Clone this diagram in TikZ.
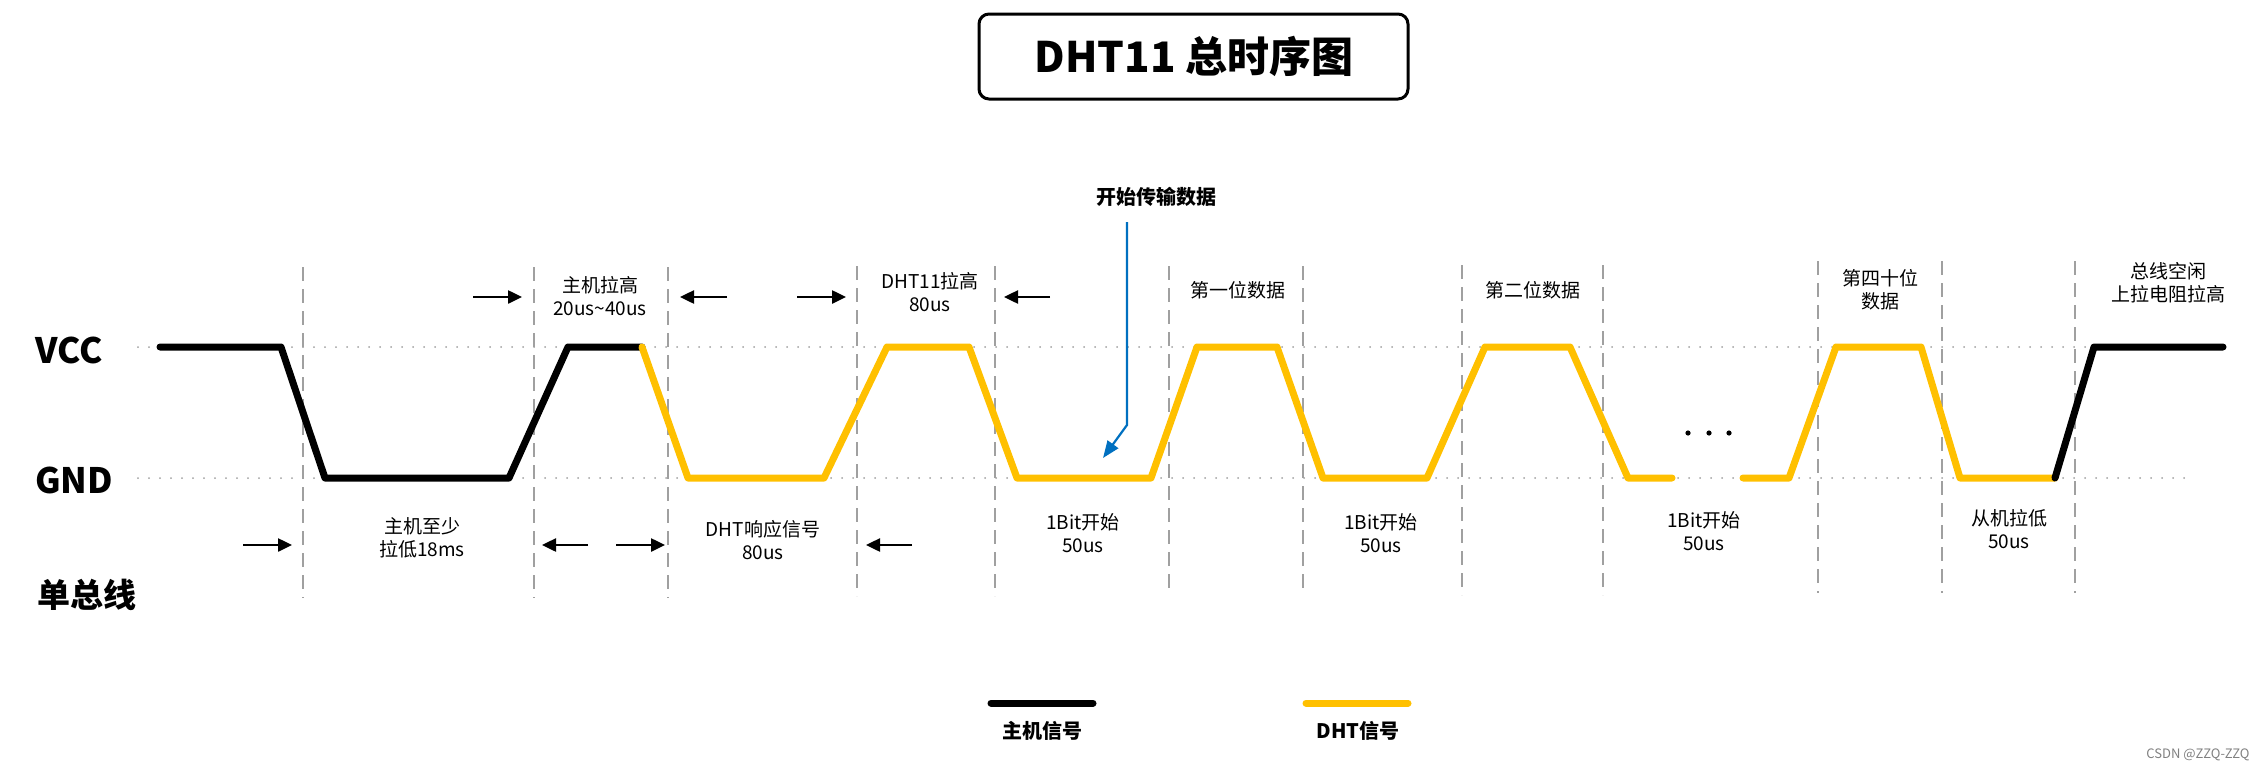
\documentclass[tikz,border=0pt]{standalone}
\usepackage{fontspec}
\setmainfont{Noto Sans CJK SC}
\usetikzlibrary{arrows.meta}
\definecolor{dhty}{HTML}{FFC000}
\definecolor{bluea}{HTML}{0070C0}
\definecolor{gridg}{HTML}{A0A0A0}
\begin{document}
\begin{tikzpicture}[x=1pt,y=-1pt,
  host/.style={line width=7pt, black, line cap=round, line join=round},
  dht/.style={line width=7pt, dhty, line cap=round, line join=round},
  level/.style={gridg, line width=2pt, line cap=round, dash pattern=on 0pt off 11pt},
  divider/.style={gridg, line width=2pt, dash pattern=on 14pt off 8pt},
  lbl/.style={font=\fontsize{19}{23}\selectfont, align=center, inner sep=0pt},
  bigl/.style={font=\fontsize{35}{40}\selectfont\bfseries, inner sep=0pt},
  marker/.style={line width=2.5pt, -{Triangle[length=14pt,width=13pt]}},
]
\useasboundingbox (0,0) rectangle (2260,771);

% title
\draw[line width=3pt, rounded corners=10pt] (979,14) rectangle (1408,99);
\node[font=\fontsize{42}{46}\selectfont\bfseries, inner sep=0pt] (title) at (1194,56) {DHT11 总时序图};

% axis labels
\node[bigl] (vcc) at (69,350) {VCC};
\node[bigl] (gnd) at (74,480) {GND};
\node[bigl, font=\fontsize{33}{38}\selectfont\bfseries] (bus) at (87,595) {单总线};

% level lines
\draw[level] (138,347) -- (2200,347);
\draw[level] (138,478) -- (2195,478);

% dividers
\foreach \x/\t/\b in {303/267/598, 534/267/598, 668/267/598, 857/266/596, 995/266/596, 1169/266/595, 1303/266/595, 1462/265/595, 1603/265/595, 1818/261/593, 1942/261/593, 2075/261/593}
  \draw[divider] (\x,\t) -- (\x,\b);

% signals
\draw[host] (160,347) -- (281,347) -- (325,478) -- (509,478) -- (568,347) -- (642,347);
\draw[dht] (642,347) -- (688,478) -- (824,478) -- (887,347) -- (969,347) -- (1017,478) -- (1151,478) -- (1197,347) -- (1277,347) -- (1323,478) -- (1427,478) -- (1485,347) -- (1570,347) -- (1628,478) -- (1672,478);
\draw[dht] (1743,478) -- (1789,478) -- (1836,347) -- (1921,347) -- (1960,478) -- (2055,478);
\draw[host] (2055,478) -- (2094,347) -- (2223,347);

% ellipsis
\foreach \x in {1688,1709,1729} \fill (\x,433) circle (2.6pt);

% timing arrows (top)
\draw[marker] (473,297) -- (522,297);
\draw[marker] (727,297) -- (680,297);
\draw[marker] (797,297) -- (846,297);
\draw[marker] (1050,297) -- (1004,297);
% timing arrows (bottom)
\draw[marker] (243,545) -- (292,545);
\draw[marker] (588,545) -- (542,545);
\draw[marker] (616,545) -- (665,545);
\draw[marker] (912,545) -- (866,545);

% labels
\node[lbl] (l1) at (600,296) {主机拉高\\20us\textasciitilde40us};
\node[lbl] (l2) at (930,292) {DHT11拉高\\80us};
\node[lbl] (l3) at (1238,290) {第一位数据};
\node[lbl] (l4) at (1533,290) {第二位数据};
\node[lbl] (l5) at (1880,290) {第四十位\\数据};
\node[lbl] (l6) at (2168,283) {总线空闲\\上拉电阻拉高};
\node[lbl] (b1) at (422,538) {主机至少\\拉低18ms};
\node[lbl] (b2) at (763,540) {DHT响应信号\\80us};
\node[lbl] (b3) at (1083,533) {1Bit开始\\50us};
\node[lbl] (b4) at (1381,533) {1Bit开始\\50us};
\node[lbl] (b5) at (1704,531) {1Bit开始\\50us};
\node[lbl] (b6) at (2009,529) {从机拉低\\50us};

% start of transmission
\node[font=\fontsize{20}{24}\selectfont\bfseries, inner sep=0pt] (start) at (1156,197) {开始传输数据};
\coordinate (bend) at (1127,425);
\coordinate (tip) at (1103,458);
\draw[bluea, line width=2.2pt, -{Triangle[length=17pt,width=13pt]}] (1127,222) -- (bend) -- (tip);

% legend
\draw[host] (991,703) -- (1093,703);
\draw[dht] (1306,703) -- (1408,703);
\node[font=\fontsize{20}{24}\selectfont\bfseries, inner sep=0pt] (lg1) at (1042,731) {主机信号};
\node[font=\fontsize{20}{24}\selectfont\bfseries, inner sep=0pt] (lg2) at (1358,731) {DHT信号};

% watermark
\node[font=\fontsize{13}{15}\selectfont, text=gray, inner sep=0pt] (wm) at (2198,755) {CSDN @ZZQ-ZZQ};
\end{tikzpicture}
\end{document}
